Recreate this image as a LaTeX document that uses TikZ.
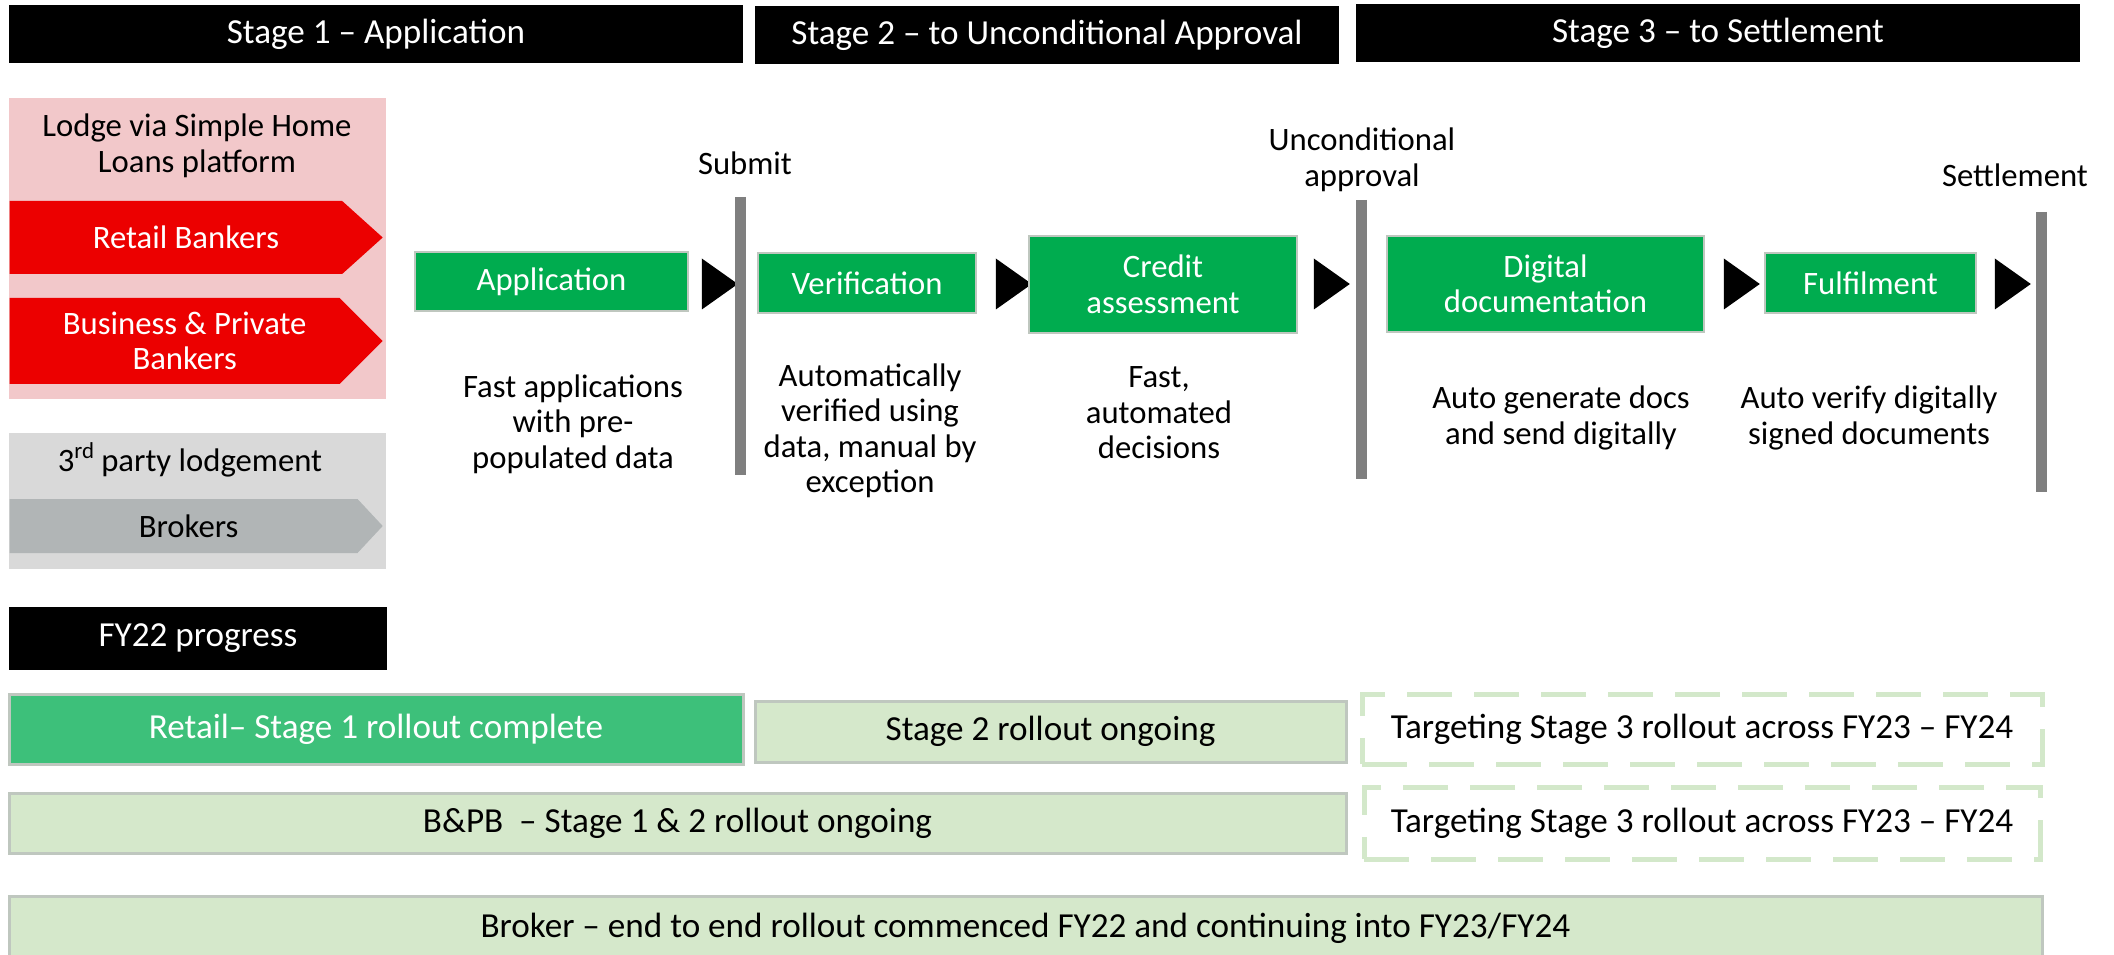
\documentclass[tikz,border=0pt]{standalone}
\usepackage{fontspec}
\setmainfont{Carlito}
\usetikzlibrary{positioning,shapes.symbols,shapes.geometric}
\definecolor{stagegreen}{HTML}{00AC4F}
\definecolor{donegreen}{HTML}{3DC07A}
\definecolor{palegreen}{HTML}{D5E8CB}
\definecolor{dashgreen}{HTML}{D3E8CA}
\definecolor{lodgepink}{HTML}{F2C8CA}
\definecolor{bankred}{HTML}{EC0000}
\definecolor{thirdgray}{HTML}{D9D9D9}
\definecolor{brokergray}{HTML}{B1B5B6}
\definecolor{bargray}{HTML}{7F7F7F}
\definecolor{edgegray}{HTML}{BFC7BF}

\begin{document}
\begin{tikzpicture}[x=0.1mm,y=-0.1mm,font=\fontsize{9.3}{10.1}\selectfont,
 head/.style={fill=black,text=white,minimum height=5.8mm,inner sep=0pt,font=\fontsize{10}{12}\selectfont},
 panel/.style={inner sep=0pt,minimum width=37.7mm},
 channel/.style={signal,signal to=east,inner sep=0pt,text=white,align=center,anchor=west,minimum width=37.3mm},
 stagebox/.style={fill=stagegreen,draw=edgegray,line width=.25mm,text=white,align=center,inner sep=0pt},
 tri/.style={isosceles triangle,isosceles triangle stretches,fill=black,inner sep=0pt,minimum width=5.1mm,minimum height=3.6mm},
 gate/.style={draw=bargray,line width=1.1mm},
 note/.style={align=center},
 prog/.style={fill=palegreen,draw=edgegray,line width=.3mm,inner sep=0pt,font=\fontsize{10}{12}\selectfont},
 target/.style={draw=dashgreen,line width=.5mm,dash pattern=on 4.5mm off 2.2mm,inner sep=0pt,font=\fontsize{10}{12}\selectfont}]
\useasboundingbox (0,0) rectangle (2114,955);
\clip (0,0) rectangle (2114,955);

\node[head,minimum width=73.4mm] (h1) at (376,34) {Stage 1 – Application};
\node[head,minimum width=58.4mm] (h2) at (1047,35) {Stage 2 – to Unconditional Approval};
\node[head,minimum width=72.4mm] (h3) at (1718,33) {Stage 3 – to Settlement};

\node[panel,fill=lodgepink,minimum height=30.1mm] (lodge) at (197.5,248.5) {};
\node[note] (lodgetxt) at (197,146) {Lodge via Simple Home\\Loans platform};
\node[channel,fill=bankred,minimum height=7.3mm,signal pointer angle=84] (retail) at (9,237.5) {\hspace*{2mm}Retail Bankers};
\node[channel,fill=bankred,minimum height=8.6mm,signal pointer angle=90] (bpb) at (9,341) {\hspace*{2mm}Business \& Private\\\hspace*{2mm}Bankers};
\node[panel,fill=thirdgray,minimum height=13.6mm] (third) at (197.5,501) {};
\node (thirdtxt) at (190,460) {3\textsuperscript{rd}\,party lodgement};
\node[channel,fill=brokergray,text=black,minimum height=5.4mm,signal pointer angle=94] (brokers) at (9,526) {\hspace*{1mm}Brokers};

\node[stagebox,minimum width=27.3mm,minimum height=5.9mm] (app) at (551.5,281.5) {Application};
\node[tri] (t1) at (715,284) {};
\coordinate (s1) at (740,197); \coordinate (s2) at (740,475);
\draw[gate] (s1) -- (s2);
\node (submit) at (745,163) {Submit};
\node[note] (apptxt) at (573,424) {Fast applications\\with pre-\\populated data};

\node[stagebox,minimum width=21.8mm,minimum height=6mm] (ver) at (867,283) {Verification};
\node[tri] (t2) at (1009,284) {};
\node[stagebox,minimum width=26.8mm,minimum height=9.7mm] (cred) at (1163,284.5) {Credit\\assessment};
\node[tri] (t3) at (1327,284) {};
\coordinate (u1) at (1361,200); \coordinate (u2) at (1361,479);
\draw[gate] (u1) -- (u2);
\node[note] (uncond) at (1362,160) {Unconditional\\approval};
\node[note] (vertxt) at (870,431) {Automatically\\verified using\\data, manual by\\exception};
\node[note] (credtxt) at (1159,413) {Fast,\\automated\\decisions};

\node[stagebox,minimum width=31.7mm,minimum height=9.6mm] (dig) at (1545.5,284) {Digital\\documentation};
\node[tri] (t4) at (1737,284) {};
\node[stagebox,minimum width=21.1mm,minimum height=6mm] (ful) at (1870.5,283) {Fulfilment};
\node[tri] (t5) at (2008,284) {};
\coordinate (e1) at (2041,212); \coordinate (e2) at (2041,492);
\draw[gate] (e1) -- (e2);
\node (settle) at (2015,175) {Settlement};
\node[note] (digtxt) at (1561,418) {Auto generate docs\\and send digitally};
\node[note] (fultxt) at (1869,418) {Auto verify digitally\\signed documents};

\node[head,minimum width=37.8mm,minimum height=6.3mm] (fy) at (198,638.5) {FY22 progress};
\node[prog,fill=donegreen,text=white,minimum width=73.4mm,minimum height=7mm] (retdone) at (376,729) {Retail– Stage 1 rollout complete};
\node[prog,minimum width=59.1mm,minimum height=6.1mm] (s2go) at (1050.5,731.5) {Stage 2 rollout ongoing};
\node[target,minimum width=68mm,minimum height=7mm] (tg1) at (1702,729) {Targeting Stage 3 rollout across FY23 – FY24};
\node[prog,minimum width=133.7mm,minimum height=6mm] (bpbgo) at (677.5,823) {B\&PB~~– Stage 1 \& 2 rollout ongoing};
\node[target,minimum width=67.6mm,minimum height=7.2mm] (tg2) at (1702,823) {Targeting Stage 3 rollout across FY23 – FY24};
\node[prog,minimum width=203.3mm,minimum height=6.4mm] (brkgo) at (1025.5,928) {Broker – end to end rollout commenced FY22 and continuing into FY23/FY24};
\end{tikzpicture}
\end{document}
